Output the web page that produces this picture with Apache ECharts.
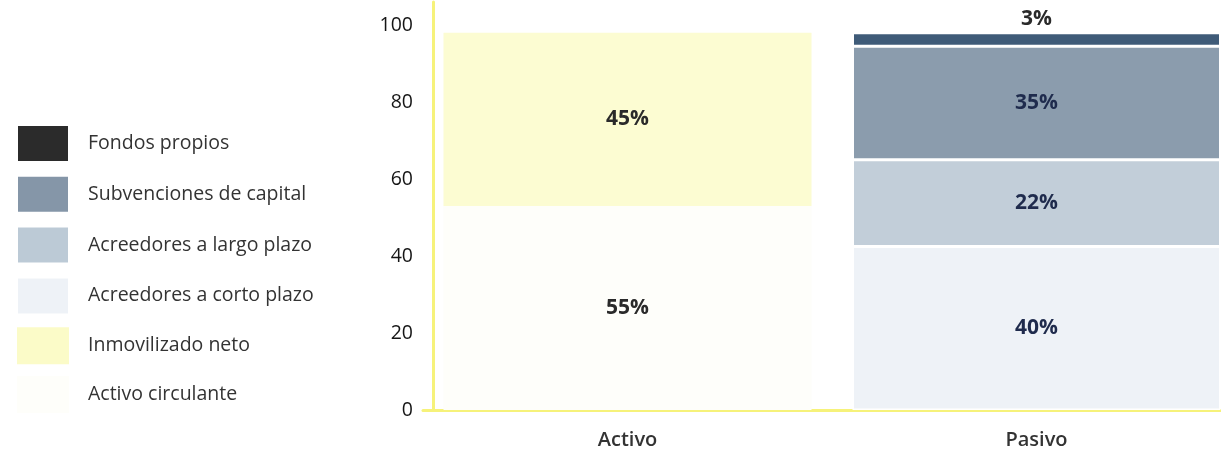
<!DOCTYPE html>
<html>
<head>
<meta charset="utf-8">
<script src="https://cdn.jsdelivr.net/npm/echarts@6/dist/echarts.min.js"></script>
<style>
html,body{margin:0;padding:0;background:#fff;}
#chart{width:1221px;height:456px;}
</style>
</head>
<body>
<div id="chart"></div>
<script>
// Data
const categories = ['Activo', 'Pasivo'];
const yTicks = [0, 20, 40, 60, 80, 100];

// bar heights (as drawn)
const activoCirculante = [53, null];
const inmovilizadoNeto = [45, null];
const acreedoresCorto = [null, 42.5];
const acreedoresLargo = [null, 22.5];
const subvenciones = [null, 29.5];
const fondosPropios = [null, 3.5];

// printed percentage labels
const activoCirculanteLabel = '55%';
const inmovilizadoNetoLabel = '45%';
const acreedoresCortoLabel = '40%';
const acreedoresLargoLabel = '22%';
const subvencionesLabel = '35%';
const fondosPropiosLabel = '3%';

const legendOrder = ['Fondos propios', 'Subvenciones de capital', 'Acreedores a largo plazo',
  'Acreedores a corto plazo', 'Inmovilizado neto', 'Activo circulante'];
const legendColors = ['#2b2b2b', '#8596a8', '#bccad6', '#eef2f7', '#fbfbc8', '#fefefa'];

const FONT = 'Open Sans';

function mk(name, data, color, labelText, opts) {
  opts = opts || {};
  return {
    name: name,
    type: 'bar',
    stack: 'total',
    data: data.map(v => v == null ? '-' : v),
    barWidth: 368,
    itemStyle: Object.assign({ color: color }, opts.itemStyle || {}),
    label: {
      show: true,
      position: opts.pos || 'inside',
      distance: opts.dist == null ? 5 : opts.dist,
      formatter: () => labelText,
      fontFamily: FONT,
      fontWeight: 'bold',
      fontSize: 21,
      color: opts.labelColor || '#2a2a2a'
    },
    emphasis: { disabled: true },
    silent: true
  };
}

const pasivoBorder = { borderColor: '#ffffff', borderWidth: 1.5 };

const chart = echarts.init(document.getElementById('chart'));
chart.setOption({
  animation: false,
  backgroundColor: '#ffffff',
  legend: {
    orient: 'vertical',
    left: 11,
    top: 119,
    itemWidth: 52,
    itemHeight: 37,
    itemGap: 11.8,
    icon: 'rect',
    selectedMode: false,
    textStyle: { fontFamily: FONT, fontSize: 19.5, color: '#333', padding: [0, 0, 0, 14] },
    data: legendOrder.map((n, i) => ({ name: n, itemStyle: { color: legendColors[i] } }))
  },
  grid: { left: 423, top: 2, bottom: 46, width: 818, containLabel: false, outerBoundsMode: 'none' },
  xAxis: {
    type: 'category',
    data: categories,
    axisLine: { lineStyle: { color: '#f6f27a', width: 3 } },
    axisTick: { show: false },
    axisLabel: { fontFamily: FONT, fontSize: 20, fontWeight: 600, color: '#333', margin: 20 }
  },
  yAxis: {
    type: 'value',
    min: 0,
    max: 106,
    interval: 20,
    offset: -10,
    axisLine: { show: true, lineStyle: { color: '#f6f27a', width: 3 } },
    axisTick: { show: false },
    splitLine: { show: false },
    axisLabel: {
      fontFamily: FONT, fontSize: 19.5, fontWeight: 500, color: '#151515', margin: 20,
      showMaxLabel: false,
      formatter: v => (yTicks.indexOf(v) >= 0 ? String(v) : '')
    }
  },
  series: [
    mk('Activo circulante', activoCirculante, '#fefefa', activoCirculanteLabel),
    mk('Inmovilizado neto', inmovilizadoNeto, '#fcfcd2', inmovilizadoNetoLabel),
    mk('Acreedores a corto plazo', acreedoresCorto, '#eef2f7', acreedoresCortoLabel, { labelColor: '#1f2b4d', itemStyle: pasivoBorder }),
    mk('Acreedores a largo plazo', acreedoresLargo, '#c2ced9', acreedoresLargoLabel, { labelColor: '#1f2b4d', itemStyle: pasivoBorder }),
    mk('Subvenciones de capital', subvenciones, '#8b9cad', subvencionesLabel, { labelColor: '#1f2b4d', itemStyle: pasivoBorder }),
    mk('Fondos propios', fondosPropios, '#3f5b78', fondosPropiosLabel, { pos: 'top', dist: 3, itemStyle: pasivoBorder })
  ]
});
</script>
</body>
</html>
